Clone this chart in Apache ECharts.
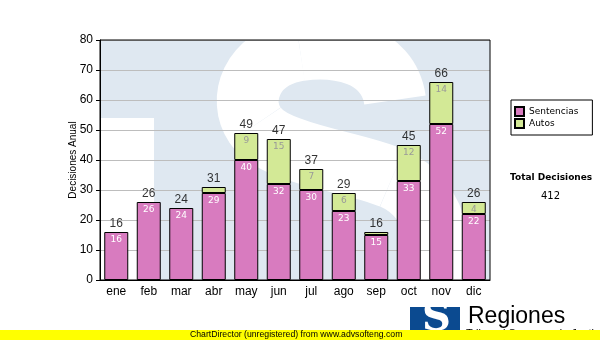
<!DOCTYPE html>
<html>
<head>
<meta charset="utf-8">
<script src="https://cdn.jsdelivr.net/npm/echarts@6/dist/echarts.min.js"></script>
<style>
html,body{margin:0;padding:0;background:#fff;}
#c{width:600px;height:340px;}
</style>
</head>
<body>
<div id="c"></div>
<script>
var months = ['ene','feb','mar','abr','may','jun','jul','ago','sep','oct','nov','dic'];
var sentencias = [16,26,24,29,40,32,30,23,15,33,52,22];
var autos = [0,0,0,2,9,15,7,6,1,12,14,4];
var yTicks = [0,10,20,30,40,50,60,70,80];

var totals = months.map(function(m,i){ return sentencias[i] + autos[i]; });
var grandTotal = totals.reduce(function(a,b){ return a+b; }, 0);

function sCurve(x1,y1,c1x,c1y,c2x,c2y,x2,y2){
  return { type: 'bezierCurve', z: -9, silent: true,
    shape: { x1:x1, y1:y1, cpx1:c1x, cpy1:c1y, cpx2:c2x, cpy2:c2y, x2:x2, y2:y2 },
    style: { fill: null, stroke: '#ffffff', lineWidth: 62, lineCap: 'butt' } };
}

var chart = echarts.init(document.getElementById('c'), null, {renderer:'canvas'});
var option = {
  animation: false,
  backgroundColor: '#ffffff',
  textStyle: { fontFamily: 'Liberation Sans' },
  grid: { left: 100, right: 110, top: 40, bottom: 60, show: true, backgroundColor: 'transparent', borderColor: '#000', borderWidth: 1, z: 1 },
  legend: {
    orient: 'vertical', left: 511, top: 100,
    data: ['Sentencias','Autos'],
    icon: 'rect', itemWidth: 9, itemHeight: 9, itemGap: 1,
    padding: [6, 14, 6, 3],
    borderColor: '#000', borderWidth: 1,
    selectedMode: false,
    textStyle: { fontFamily: 'DejaVu Sans', fontSize: 9, color: '#000' }
  },
  xAxis: {
    type: 'category', data: months,
    axisLine: { lineStyle: { color: '#000', width: 1 } },
    axisTick: { alignWithLabel: true, length: 4, lineStyle: { color: '#000' } },
    axisLabel: { color: '#000', fontSize: 12, margin: 6, fontFamily: 'Liberation Sans' }
  },
  yAxis: {
    type: 'value', min: yTicks[0], max: yTicks[yTicks.length-1], interval: 10,
    name: 'Decisiones Anual', nameLocation: 'middle', nameRotate: 90, nameGap: 22, nameMoveOverlap: false,
    nameTextStyle: { color: '#000', fontSize: 10, fontFamily: 'Liberation Sans' },
    axisLine: { show: true, lineStyle: { color: '#000', width: 1 } },
    axisTick: { show: true, length: 4, lineStyle: { color: '#000' } },
    axisLabel: { color: '#000', fontSize: 12, margin: 7, fontFamily: 'Liberation Sans' },
    splitLine: { lineStyle: { color: '#bdbdbd', width: 1 } }
  },
  graphic: { elements: [
    { type: 'rect', z: -10, silent: true, shape: { x: 100, y: 40, width: 390, height: 240 }, style: { fill: '#dfe8f1' } },
    { type: 'rect', z: -9, silent: true, shape: { x: 101, y: 118, width: 53, height: 162 }, style: { fill: '#ffffff' } },
    sCurve(395,100, 388,52, 335,45, 300,50),
    sCurve(300,50, 250,58, 238,100, 255,125),
    sCurve(255,125, 275,155, 350,160, 392,178),
    sCurve(392,178, 440,198, 452,262, 430,330),
    { type: 'rect', z: -8, silent: true, shape: { x: 0, y: 0, width: 600, height: 39.5 }, style: { fill: '#ffffff' } },
    { type: 'rect', z: -8, silent: true, shape: { x: 490.5, y: 0, width: 110, height: 340 }, style: { fill: '#ffffff' } },
    { type: 'rect', z: -8, silent: true, shape: { x: 0, y: 280.5, width: 600, height: 60 }, style: { fill: '#ffffff' } },
    { type: 'text', z: 10, left: 510, top: 173, style: { text: 'Total Decisiones', fontFamily: 'DejaVu Sans', fontWeight: 'bold', fontSize: 9, fill: '#000' } },
    { type: 'text', z: 10, left: 541, top: 191, style: { text: String(grandTotal), fontFamily: 'DejaVu Sans', fontSize: 10, fill: '#000' } },
    { type: 'rect', z: 10, silent: true, shape: { x: 410, y: 307, width: 50, height: 33 }, style: { fill: '#0b4a90' } },
    { type: 'text', z: 11, left: 422, top: 300, style: { text: 'S', fontFamily: 'DejaVu Serif', fontWeight: 'bold', fontSize: 40, fill: '#ffffff' } },
    { type: 'text', z: 10, left: 468, top: 305, style: { text: 'Regiones', fontFamily: 'Liberation Sans', fontSize: 23, fill: '#000' } },
    { type: 'text', z: 10, left: 466, top: 328, style: { text: 'Tribunal Supremo de Justicia', fontFamily: 'Liberation Sans', fontSize: 11, fill: '#000' } },
    { type: 'rect', z: 20, silent: true, shape: { x: 0, y: 330, width: 600, height: 10 }, style: { fill: '#ffff00' } },
    { type: 'text', z: 21, left: 190, top: 330, style: { text: 'ChartDirector (unregistered) from www.advsofteng.com', fontFamily: 'Liberation Sans', fontSize: 8.7, fill: '#000' } }
  ]},
  series: [
    { name: 'Sentencias', type: 'bar', stack: 'tot', data: sentencias, barWidth: 24,
      itemStyle: { color: '#d87bbf', borderColor: '#000', borderWidth: 1 },
      label: { show: true, position: 'insideTop', distance: 3, color: '#ffffff', fontSize: 9, fontFamily: 'DejaVu Sans' } },
    { name: 'Autos', type: 'bar', stack: 'tot', barWidth: 24,
      data: autos.map(function(v){ return v === 0 ? '-' : v; }),
      itemStyle: { color: '#d3e996', borderColor: '#000', borderWidth: 1 },
      label: { show: true, position: 'insideTop', distance: 3, color: '#999999', fontSize: 9, fontFamily: 'DejaVu Sans',
        formatter: function(p){ return p.value >= 4 ? String(p.value) : ''; } } },
    { name: 'Total', type: 'scatter', data: totals, symbolSize: 0, silent: true,
      label: { show: true, position: 'top', distance: 2, color: '#000', fontSize: 12, fontFamily: 'Liberation Sans',
        formatter: function(p){ return String(p.value); } } }
  ]
};
chart.setOption(option);
</script>
</body>
</html>
